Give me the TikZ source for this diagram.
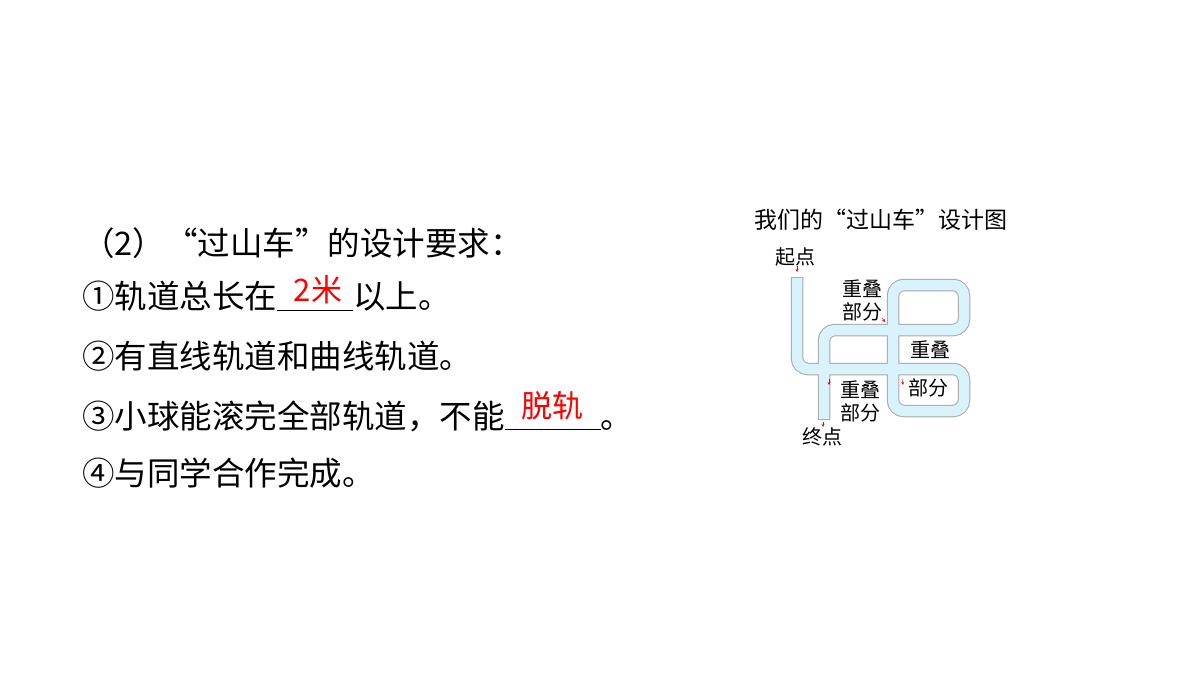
\documentclass[tikz,border=0pt]{standalone}
\usepackage{fontspec}
\setmainfont{Noto Sans CJK SC}
\usetikzlibrary{positioning,arrows.meta}
\newcommand*{\blank}[1]{\underline{\makebox[#1]{}}}
\tikzset{
  line/.style={anchor=west,inner sep=0pt,font=\fontsize{32.5}{34}\selectfont},
  ans/.style={red,inner sep=0pt,font=\fontsize{31}{33}\selectfont},
  lab/.style={inner sep=0pt,align=center,font=\fontsize{20}{23}\selectfont},
  tip/.style={red,-{Stealth[length=3pt,width=3pt]},line width=0.5pt}
}
\begin{document}
\begin{tikzpicture}[x=1pt,y=-1pt]
\useasboundingbox (0,0) rectangle (1200,675);
% Requirements
\node[line] (l1) at (82,243) {（2）“过山车”的设计要求：};
\node[line] (l2) at (82,296) {①轨道总长在\blank{76pt}以上。};
\node[line] (l3) at (82,356) {②有直线轨道和曲线轨道。};
\node[line] (l4) at (82,416) {③小球能滚完全部轨道，不能\blank{96pt}。};
\node[line] (l5) at (82,473) {④与同学合作完成。};
\node[ans] (a1) at (318,290) {2米};
\node[ans] (a2) at (552,406) {脱轨};
% Track
\node[lab,font=\fontsize{23}{25}\selectfont] (title) at (881,220) {我们的“过山车”设计图};
\draw[gray!70,line width=12.5pt,rounded corners=11pt]
  (797,277) -- (797,369) -- (964,369) -- (964,411) -- (893,411) -- (893,285)
  -- (964,285) -- (964,330) -- (824,330) -- (824,420);
\draw[cyan!15,line width=10.5pt,rounded corners=11pt]
  (797,277.8) -- (797,369) -- (964,369) -- (964,411) -- (893,411) -- (893,285)
  -- (964,285) -- (964,330) -- (824,330) -- (824,419.2);
% Labels
\node[lab] (start) at (795,257) {起点};
\node[lab] (ov1) at (862,300) {重叠\\部分};
\node[lab] (ov2a) at (930,350) {重叠};
\node[lab] (ov2b) at (928,388) {部分};
\node[lab] (ov3) at (860,401) {重叠\\部分};
\node[lab] (end) at (822,437) {终点};
\draw[tip] (797,266) -- (797,272);
\draw[tip] (882,318) -- (885,322);
\draw[tip] (829,379) -- (829,385);
\draw[tip] (902,379) -- (903,385);
\draw[tip] (823,422) -- (823,427);
\end{tikzpicture}
\end{document}
